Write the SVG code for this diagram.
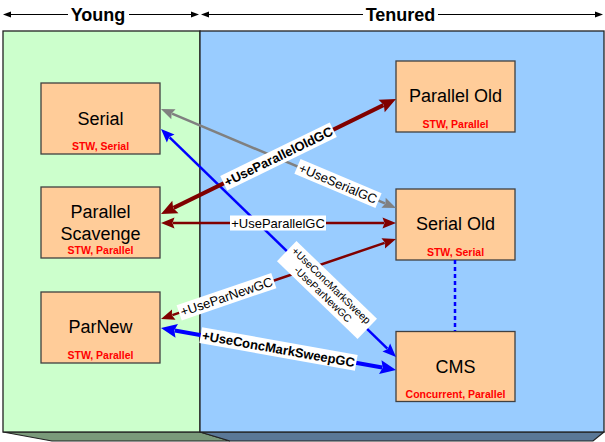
<svg xmlns="http://www.w3.org/2000/svg" width="605" height="442" viewBox="0 0 605 442">
<style>
text{font-family:"Liberation Sans",Arial,sans-serif;text-anchor:middle}
.hdr{font-size:18px;font-weight:bold;fill:#000}
.title{font-size:18px;fill:#000}
.sub{font-size:10.5px;font-weight:bold;fill:#ff0000}
.lbl{font-size:13px;fill:#000}
.lblb{font-size:13px;font-weight:bold;fill:#000}
.lbls{font-size:10.5px;fill:#000}
.bg{fill:#ffffff}
.box{fill:#ffcc99;stroke:#404040;stroke-width:1.3}
.hline{stroke:#000;stroke-width:1;fill:none}
.red{stroke:#800000;stroke-width:2.5;fill:none;marker-start:url(#hRed);marker-end:url(#hRed)}
.redB{stroke:#800000;stroke-width:4;fill:none;marker-start:url(#hRedB);marker-end:url(#hRedB)}
.blue{stroke:#0000ff;stroke-width:2.5;fill:none;marker-start:url(#hBlue);marker-end:url(#hBlue)}
.blueB{stroke:#0000ff;stroke-width:4;fill:none;marker-start:url(#hBlueB);marker-end:url(#hBlueB)}
.gray{stroke:#808080;stroke-width:2.5;fill:none;marker-start:url(#hGray);marker-end:url(#hGray)}
</style>
<defs>
<marker id="hBlack" markerUnits="userSpaceOnUse" orient="auto-start-reverse" overflow="visible" markerWidth="10" markerHeight="10" refX="0" refY="0"><path d="M0,-3 L8,0 L0,3 z" fill="#000"/></marker>
<marker id="hRed" markerUnits="userSpaceOnUse" orient="auto-start-reverse" overflow="visible" markerWidth="14" markerHeight="14" refX="0" refY="0"><path d="M-1.5,-5.5 L12,0 L-1.5,5.5 L0.5,0 z" fill="#800000"/></marker>
<marker id="hRedB" markerUnits="userSpaceOnUse" orient="auto-start-reverse" overflow="visible" markerWidth="16" markerHeight="16" refX="0" refY="0"><path d="M-2,-7 L14,0 L-2,7 L0.5,0 z" fill="#800000"/></marker>
<marker id="hBlue" markerUnits="userSpaceOnUse" orient="auto-start-reverse" overflow="visible" markerWidth="14" markerHeight="14" refX="0" refY="0"><path d="M-1.5,-5.5 L12,0 L-1.5,5.5 L0.5,0 z" fill="#0000ff"/></marker>
<marker id="hBlueB" markerUnits="userSpaceOnUse" orient="auto-start-reverse" overflow="visible" markerWidth="16" markerHeight="16" refX="0" refY="0"><path d="M-2,-7 L14,0 L-2,7 L0.5,0 z" fill="#0000ff"/></marker>
<marker id="hGray" markerUnits="userSpaceOnUse" orient="auto-start-reverse" overflow="visible" markerWidth="14" markerHeight="14" refX="0" refY="0"><path d="M-1.5,-5.5 L12,0 L-1.5,5.5 L0.5,0 z" fill="#808080"/></marker>
</defs>
<rect width="605" height="442" fill="#ffffff"/>

<g id="regions">
<polygon points="3,432 200,432 230,441 52,441" fill="#7a9a7a" stroke="#222" stroke-width="1.2"/>
<polygon points="200,432 604,432 593,441 230,441" fill="#5a7897" stroke="#222" stroke-width="1.2"/>
<rect x="3" y="31" width="197" height="401" fill="#ccffcc" stroke="#222" stroke-width="1.3"/>
<rect x="200" y="31" width="404" height="401" fill="#99ccff" stroke="#222" stroke-width="1.3"/>
</g>

<g id="header">
<line class="hline" x1="11" y1="14.5" x2="68" y2="14.5" marker-start="url(#hBlack)"/>
<line class="hline" x1="129" y1="14.5" x2="191" y2="14.5" marker-end="url(#hBlack)"/>
<text class="hdr" x="98" y="21">Young</text>
<line class="hline" x1="209" y1="14.5" x2="363" y2="14.5" marker-start="url(#hBlack)"/>
<line class="hline" x1="438" y1="14.5" x2="595" y2="14.5" marker-end="url(#hBlack)"/>
<text class="hdr" x="400.5" y="21">Tenured</text>
</g>

<g id="serial">
<rect class="box" x="41" y="83" width="119" height="71"/>
<text class="title" x="100.5" y="124.5">Serial</text>
<text class="sub" x="100.5" y="150">STW, Serial</text>
</g>
<g id="parallel-scavenge">
<rect class="box" x="41" y="187" width="119" height="71"/>
<text class="title" x="100.5" y="218">Parallel</text>
<text class="title" x="100.5" y="240">Scavenge</text>
<text class="sub" x="100.5" y="254">STW, Parallel</text>
</g>
<g id="parnew">
<rect class="box" x="41" y="292" width="119" height="71"/>
<text class="title" x="100.5" y="332.5">ParNew</text>
<text class="sub" x="100.5" y="359">STW, Parallel</text>
</g>
<g id="parallel-old">
<rect class="box" x="396" y="61" width="119" height="71"/>
<text class="title" x="455.5" y="102">Parallel Old</text>
<text class="sub" x="455.5" y="128">STW, Parallel</text>
</g>
<g id="serial-old">
<rect class="box" x="396" y="189" width="119" height="71"/>
<text class="title" x="455.5" y="230">Serial Old</text>
<text class="sub" x="455.5" y="255.5">STW, Serial</text>
</g>
<g id="cms">
<rect class="box" x="396" y="331.5" width="119" height="70"/>
<text class="title" x="455.5" y="372.5">CMS</text>
<text class="sub" x="455.5" y="398">Concurrent, Parallel</text>
</g>

<g id="connectors">
<line x1="455" y1="260" x2="455" y2="331" stroke="#0000ff" stroke-width="2.5" stroke-dasharray="4,3"/>
<line class="gray" x1="172.05" y1="113.68" x2="384.95" y2="203.32"/>
<line class="blue" x1="169.6" y1="137.4" x2="387.4" y2="348.6"/>
<line class="redB" x1="173.58" y1="207.84" x2="383.42" y2="105.16"/>
<line class="red" x1="173" y1="223" x2="384" y2="223"/>
<line class="red" x1="172.36" y1="315.13" x2="384.64" y2="242.87"/>
<line class="blueB" x1="174.78" y1="330.46" x2="382.22" y2="367.54"/>

<g transform="translate(338,183.5) rotate(22.9)">
<rect class="bg" x="-44" y="-8" width="88" height="16"/>
<text class="lbl" y="4.5">+UseSerialGC</text>
</g>
<g transform="translate(278.5,156.5) rotate(-26.07)">
<rect class="bg" x="-61" y="-8" width="122" height="16"/>
<text class="lblb" y="4.5">+UseParallelOldGC</text>
</g>
<g transform="translate(278,223)">
<rect class="bg" x="-48" y="-7.5" width="96" height="15"/>
<text class="lbl" y="4.5">+UseParallelGC</text>
</g>
<g transform="translate(226.5,296.7) rotate(-18.8)">
<rect class="bg" x="-50" y="-8" width="100" height="16"/>
<text class="lbl" y="4.5">+UseParNewGC</text>
</g>
<g transform="translate(327,290) rotate(44)">
<rect class="bg" x="-56" y="-14" width="112" height="28"/>
<text class="lbls" y="-2.5">+UseConcMarkSweep</text>
<text class="lbls" y="9.5">-UseParNewGC</text>
</g>
<g transform="translate(278.5,349) rotate(10.13)">
<rect class="bg" x="-79" y="-8" width="158" height="16"/>
<text class="lblb" y="4.5">+UseConcMarkSweepGC</text>
</g>
</g>
</svg>
